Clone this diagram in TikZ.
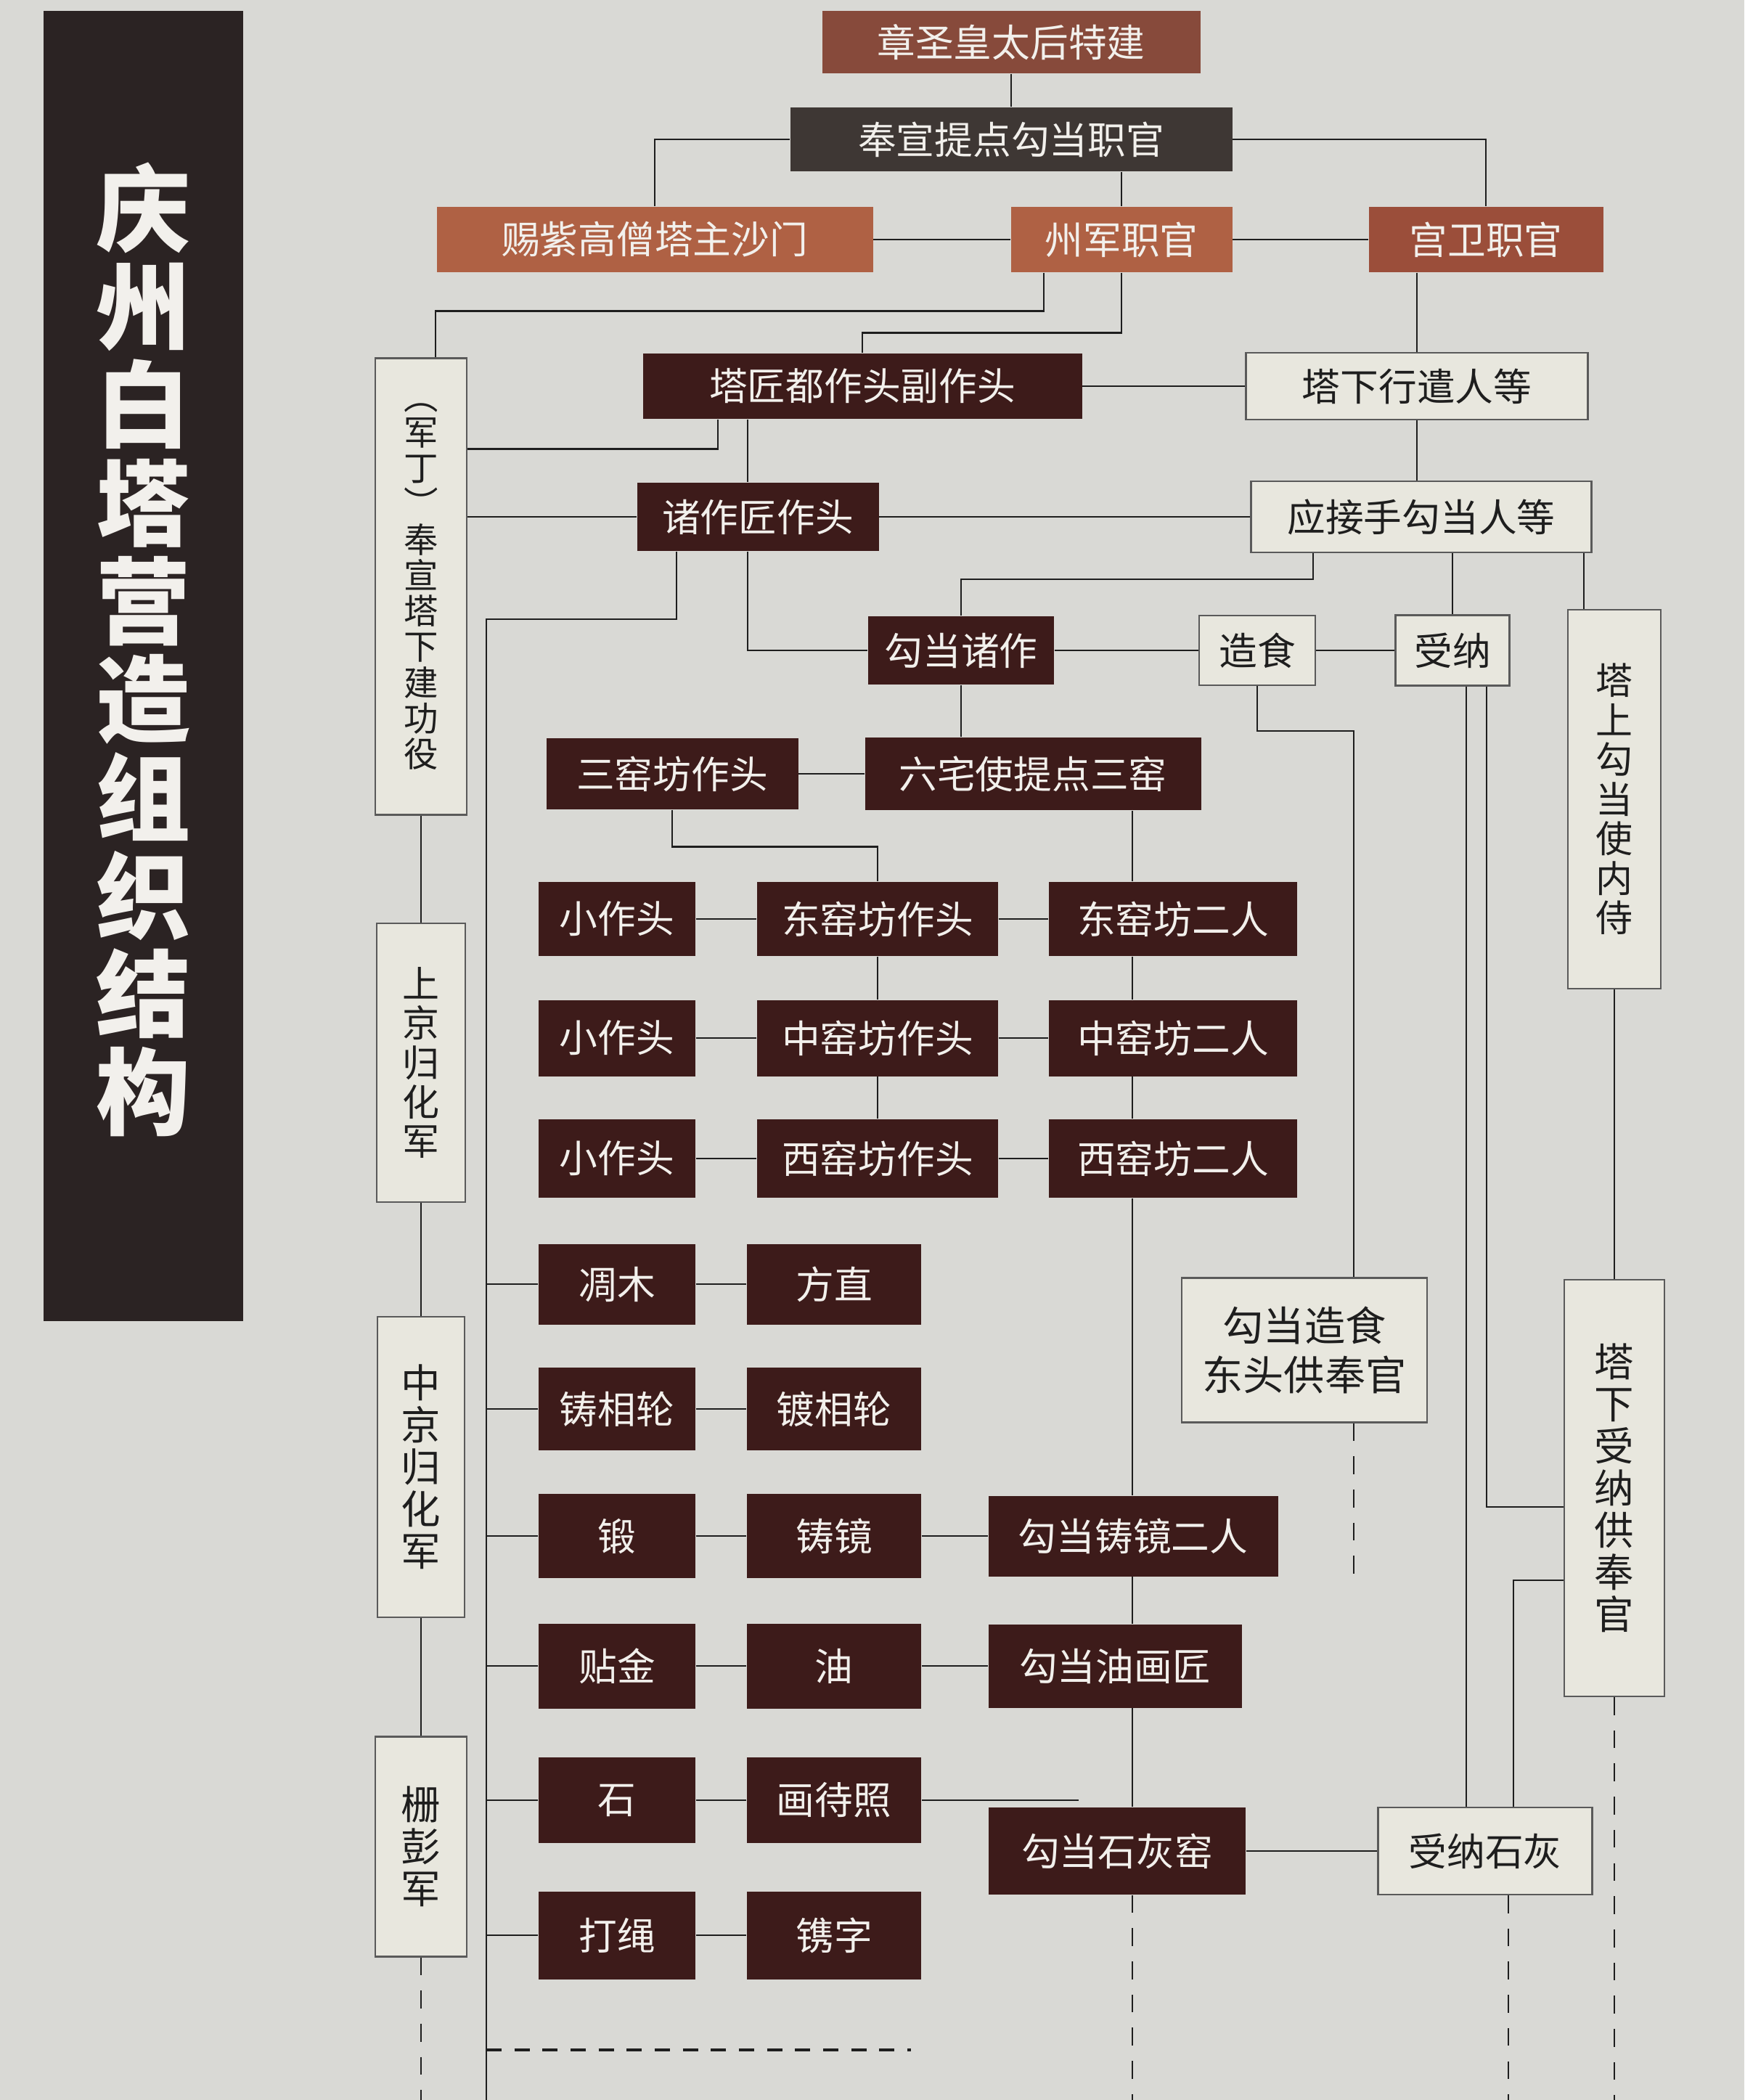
\documentclass[tikz,border=0pt]{standalone}
\usepackage{fontspec}
\newfontfamily\cjk{Noto Sans CJK SC}
\usetikzlibrary{calc}
\definecolor{paper}{HTML}{D9D9D5}
\definecolor{band}{HTML}{2B2323}
\definecolor{boxdark}{HTML}{3D1B1A}
\definecolor{boxgray}{HTML}{3E3734}
\definecolor{boxrust}{HTML}{874A3B}
\definecolor{boxorange}{HTML}{AF6144}
\definecolor{boxbrick}{HTML}{9B4E3A}
\definecolor{boxlight}{HTML}{E8E7DE}
\definecolor{boxline}{HTML}{5A5A5A}
\definecolor{ink}{HTML}{1E1E1E}
\definecolor{boxtext}{HTML}{F2F0EC}
\newcommand\boxfont{\cjk\fontsize{15}{18}\selectfont}
\newcommand\vfont{\cjk\fontsize{14.5}{15.5}\selectfont}
\newcommand\vbigfont{\cjk\fontsize{15.5}{16.5}\selectfont}
\tikzset{
  box/.style={inner sep=0pt,align=center,font=\boxfont},
  sz/.style 2 args={minimum width=#1cm,minimum height=#2cm},
  darkbox/.style={box,fill=boxdark,text=boxtext},
  lightbox/.style={box,fill=boxlight,draw=boxline,line width=.6pt,text=ink},
  vbox/.style={lightbox,font=\vfont},
  link/.style={draw=ink,line width=.8pt},
  dashlink/.style={link,dash pattern=on 7pt off 6pt}}

\begin{document}
\begin{tikzpicture}[x=1cm,y=-1cm]
\fill[paper] (0,0) rectangle (24.03,28.93);
\useasboundingbox (0,0) rectangle (24.03,28.93);
% title band
\fill[band] (0.60,0.15) rectangle (3.35,18.20);
\node[text=boxtext,align=center,font=\cjk\bfseries\fontsize{37}{38.5}\selectfont] (title) at (1.98,8.95)
  {庆\\州\\白\\塔\\营\\造\\组\\织\\结\\构};

% upper offices
\node[darkbox,fill=boxrust,sz={5.21}{.86}] (zhangsheng) at (13.93,0.58) {章圣皇太后特建};
\node[darkbox,fill=boxgray,sz={6.09}{.88}] (fengxuan) at (13.93,1.92) {奉宣提点勾当职官};
\node[darkbox,fill=boxorange,sz={6.01}{.90}] (cizi) at (9.02,3.30) {赐紫高僧塔主沙门};
\node[darkbox,fill=boxorange,sz={3.05}{.90}] (zhoujun) at (15.45,3.30) {州军职官};
\node[darkbox,fill=boxbrick,sz={3.23}{.90}] (gongwei) at (20.47,3.30) {宫卫职官};
\node[darkbox,sz={6.05}{.90}] (tajiang) at (11.88,5.32) {塔匠都作头副作头};
\node[lightbox,sz={4.71}{.92}] (xingqian) at (19.52,5.32) {塔下行遣人等};
\node[darkbox,sz={3.33}{.94}] (zhuzuo) at (10.44,7.12) {诸作匠作头};
\node[lightbox,sz={4.69}{.98}] (yingjie) at (19.58,7.12) {应接手勾当人等};
\node[darkbox,sz={2.56}{.94}] (goudang) at (13.24,8.96) {勾当诸作};
\node[lightbox,sz={1.60}{.96}] (zaoshi) at (17.32,8.96) {造食};
\node[lightbox,sz={1.57}{.97}] (shouna) at (20.01,8.96) {受纳};
\node[darkbox,sz={3.47}{.98}] (sanyao) at (9.26,10.66) {三窑坊作头};
\node[darkbox,sz={4.63}{1.00}] (liuzhai) at (14.23,10.66) {六宅使提点三窑};

% vertical boxes
\node[vbox,sz={1.26}{6.29},font=\cjk\fontsize{13.5}{14}\selectfont] (junding) at (5.80,8.08)
  {︵\\军\\丁\\︶\\奉\\宣\\塔\\下\\建\\功\\役};
\node[vbox,sz={1.22}{3.84}] (shangjing) at (5.80,14.64) {上\\京\\归\\化\\军};
\node[vbox,sz={1.20}{4.14},font=\vbigfont] (zhongjing) at (5.80,20.21) {中\\京\\归\\化\\军};
\node[vbox,sz={1.26}{3.03},font=\vbigfont] (shanpeng) at (5.80,25.44) {栅\\彭\\军};
\node[vbox,sz={1.28}{5.22}] (tashang) at (22.24,11.01) {塔\\上\\勾\\当\\使\\内\\侍};
\node[vbox,sz={1.38}{5.74},font=\vbigfont] (taxia) at (22.24,20.50) {塔\\下\\受\\纳\\供\\奉\\官};

% kiln rows
\foreach \kr/\yy/\hh/\kiln in {dong/12.66/1.02/东,zhong/14.30/1.05/中,xi/15.96/1.08/西}{
  \node[darkbox,sz={2.16}{\hh}] (\kr xiao) at (8.50,\yy) {小作头};
  \node[darkbox,sz={3.32}{\hh}] (\kr tou) at (12.09,\yy) {\kiln 窑坊作头};
  \node[darkbox,sz={3.42}{\hh}] (\kr er) at (16.16,\yy) {\kiln 窑坊二人};
}

% craft rows
\foreach \na/\nb/\yy/\hh/\ta/\tb in {diaomu/fangzhi/17.69/1.11/凋木/方直,zhuxiang/duxiang/19.41/1.14/铸相轮/镀相轮,duan/zhujing/21.16/1.16/锻/铸镜,tiejin/you/22.95/1.17/贴金/油,shi/huadai/24.80/1.18/石/画待照,dasheng/juanzi/26.66/1.21/打绳/镌字}{
  \node[darkbox,sz={2.16}{\hh}] (\na) at (8.50,\yy) {\ta};
  \node[darkbox,sz={2.40}{\hh}] (\nb) at (11.49,\yy) {\tb};
}
\node[darkbox,sz={3.99}{1.11}] (zhujinger) at (15.61,21.16) {勾当铸镜二人};
\node[darkbox,sz={3.49}{1.15}] (youhua) at (15.36,22.95) {勾当油画匠};
\node[darkbox,sz={3.54}{1.20}] (shihui) at (15.39,25.50) {勾当石灰窑};
\node[lightbox,sz={2.95}{1.20}] (shouhui) at (20.46,25.50) {受纳石灰};
\node[lightbox,sz={3.38}{1.99},font=\cjk\fontsize{16}{19.5}\selectfont] (zaoguan) at (17.97,18.60)
  {勾当造食\\东头供奉官};

% helper points
\coordinate (trunk) at (6.70,8.53);
\coordinate (bottom) at (0,28.93);
\coordinate (chain) at (15.60,0);
\coordinate (spine) at (10.30,0);
\coordinate (tsx) at (21.82,0);
\coordinate (zsx) at (18.65,0);
\coordinate (snl) at (20.20,0);
\coordinate (snr) at (20.48,0);
\coordinate (shd) at (20.78,0);
\coordinate (snturn) at (20.48,20.76);
\coordinate (txturn) at (20.85,21.77);
\coordinate (jdtop) at ($(junding.north)+(0.2,0)$);
\coordinate (huadaiend) at (14.86,24.80);
\coordinate (dashend) at (12.55,28.24);

% top connectors
\draw[link] (zhangsheng) -- (fengxuan);
\draw[link] (fengxuan.west) -| (cizi.north);
\draw[link] (fengxuan.east) -| (gongwei.north);
\draw[link] (fengxuan.south -| zhoujun.north) -- (zhoujun.north);
\draw[link] (cizi) -- (zhoujun);
\draw[link] (zhoujun) -- (gongwei);
\draw[link] ($(zhoujun.south)+(-1.07,0)$) -- ++(0,0.53) -| (jdtop);
\draw[link] (zhoujun.south) -- ++(0,0.83) -| (tajiang.north);
\draw[link] (gongwei.south -| xingqian.north) -- (xingqian.north);
\draw[link] (tajiang) -- (xingqian);
\draw[link] (xingqian.south) -- (xingqian.south |- yingjie.north);
\draw[link] ($(tajiang.south)+(-1.99,0)$) -- ++(0,0.41) coordinate (tj) -- (tj -| junding.east);
\draw[link] (tajiang.south -| spine) -- (zhuzuo.north -| spine);
\draw[link] (zhuzuo.south -| spine) |- (goudang.west);
\draw[link] (zhuzuo.west) -- (zhuzuo.west -| junding.east);
\draw[link] (zhuzuo) -- (yingjie);
\draw[link] ($(zhuzuo.south)+(-1.12,0)$) |- (trunk) -- (trunk |- bottom);
\draw[link] ($(yingjie.south)+(-1.49,0)$) -- ++(0,0.36) -| (goudang.north);
\draw[link] (yingjie.south -| shouna.north) -- (shouna.north);
\draw[link] (yingjie.south -| tsx) -- (tashang.north -| tsx);
\draw[link] (goudang) -- (zaoshi) -- (shouna);
\draw[link] (goudang.south) -- (goudang.south |- liuzhai.north);
\draw[link] (sanyao) -- (liuzhai);
\draw[link] (sanyao.south) -- ++(0,0.51) -| (dongtou.north);

% kiln connectors
\draw[link] (dongtou) -- (zhongtou) -- (xitou);
\foreach \kr in {dong,zhong,xi}
  \draw[link] (\kr xiao) -- (\kr tou) -- (\kr er);
\foreach \a/\b in {liuzhai/donger,donger/zhonger,zhonger/xier,xier/zhujinger,zhujinger/youhua,youhua/shihui}
  \draw[link] (\a.south -| chain) -- (\b.north -| chain);
\draw[dashlink] (shihui.south -| chain) -- (bottom -| chain);

% craft connectors
\draw[link] (diaomu) -- (fangzhi);
\draw[link] (zhuxiang) -- (duxiang);
\draw[link] (duan) -- (zhujing) -- (zhujinger);
\draw[link] (tiejin) -- (you) -- (youhua);
\draw[link] (shi) -- (huadai) -- (huadaiend);
\draw[link] (dasheng) -- (juanzi);
\draw[link] (shihui) -- (shouhui);
\foreach \n in {diaomu,zhuxiang,duan,tiejin,shi,dasheng}
  \draw[link] (\n.west) -- (\n.west -| trunk);
\draw[link,line width=1.4pt,dash pattern=on 6pt off 5pt] (trunk |- dashend) -- (dashend);

% right side
\draw[link] (zaoshi.south) -- ++(0,0.62) -| (zaoguan.north -| zsx);
\draw[dashlink] (zaoguan.south -| zsx) -- ++(0,2.18);
\draw[link] (shouna.south -| snl) -- (shouhui.north -| snl);
\draw[link] (shouna.south -| snr) -- (snturn) -- (snturn -| taxia.west);
\draw[link] (txturn -| taxia.west) -- (txturn) -- (shouhui.north -| txturn);
\draw[dashlink] (shouhui.south -| shd) -- (bottom -| shd);
\draw[link] (tashang) -- (taxia);
\draw[dashlink] (taxia.south) -- (taxia.south |- bottom);

% left column
\draw[link] (junding) -- (shangjing) -- (zhongjing) -- (shanpeng);
\draw[dashlink] (shanpeng.south) -- (shanpeng.south |- bottom);
\end{tikzpicture}
\end{document}
